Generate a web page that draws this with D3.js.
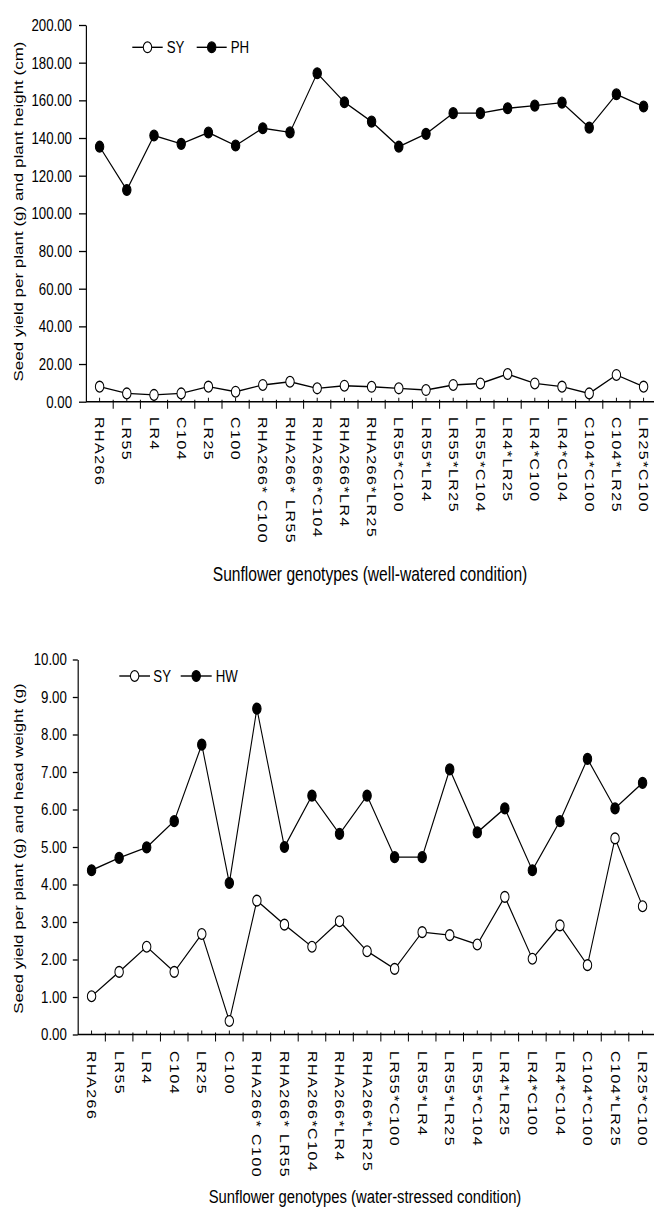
<!DOCTYPE html>
<html>
<head>
<meta charset="utf-8">
<script src="https://cdn.jsdelivr.net/npm/d3@7"></script>
<style>
  body { margin: 0; background: #fff; }
  svg { display: block; font-family: "Liberation Sans", Arial, sans-serif; }
</style>
</head>
<body>
<svg id="fig" width="654" height="1221"></svg>
<script>
"use strict";

// genotypes on the x axis (both panels)
const genotypes = [
  "RHA266", "LR55", "LR4", "C104", "LR25", "C100",
  "RHA266* C100", "RHA266* LR55", "RHA266*C104", "RHA266*LR4", "RHA266*LR25",
  "LR55*C100", "LR55*LR4", "LR55*LR25", "LR55*C104",
  "LR4*LR25", "LR4*C100", "LR4*C104", "C104*C100", "C104*LR25", "LR25*C100",
];

// well-watered: seed yield (g) and plant height (cm)
const syWell = [8.0, 4.4, 3.6, 4.4, 8.0, 5.3, 8.9, 10.6, 7.1, 8.5, 7.9, 7.1, 6.2, 8.9, 9.7, 14.7, 9.7, 8.0, 4.4, 14.2, 8.0];
const phWell = [135.4, 112.4, 141.3, 136.9, 142.9, 136.0, 145.2, 143.0, 174.4, 159.0, 148.7, 135.4, 142.2, 153.2, 153.2, 155.8, 157.2, 158.8, 145.5, 163.2, 156.7];

// water-stressed: seed yield (g) and head weight (g)
const syStress = [1.02, 1.67, 2.34, 1.67, 2.68, 0.36, 3.57, 2.93, 2.34, 3.02, 2.22, 1.75, 2.73, 2.65, 2.40, 3.67, 2.02, 2.91, 1.85, 5.23, 3.42];
const hwStress = [4.38, 4.71, 4.99, 5.69, 7.73, 4.04, 8.69, 5.00, 6.37, 5.35, 6.37, 4.73, 4.73, 7.07, 5.39, 6.03, 4.38, 5.69, 7.35, 6.03, 6.71];

const ticksWell = [0, 20, 40, 60, 80, 100, 120, 140, 160, 180, 200];
const ticksStress = [0, 1, 2, 3, 4, 5, 6, 7, 8, 9, 10];

// the original figure is squeezed horizontally
const kx = 0.78;
const u = (px) => px / kx;

const svg = d3.select("#fig");
const root = svg.append("g").attr("transform", `scale(${kx},1)`);

function drawChart(o) {
  const g = root.append("g");
  const n = genotypes.length;

  const x = d3.scaleBand()
    .domain(genotypes)
    .range([u(o.left), u(o.left + o.band * n)]);
  const cx = (d) => x(d) + x.bandwidth() / 2;

  const y = d3.scaleLinear().domain([0, o.yMax]).range([o.bottom, o.top]);

  // y axis
  const yAxis = d3.axisLeft(y)
    .tickValues(o.ticks)
    .tickFormat(d3.format(".2f"))
    .tickSize(u(o.tickLen))
    .tickSizeOuter(0)
    .tickPadding(u(o.tickPad));
  const ya = g.append("g")
    .attr("transform", `translate(${u(o.left)},0)`)
    .call(yAxis);
  ya.select(".domain").attr("stroke", "#000").attr("stroke-width", 1.5);
  ya.selectAll(".tick line").attr("stroke", "#000").attr("stroke-width", 1.3);
  ya.selectAll(".tick text")
    .attr("fill", "#000")
    .attr("font-size", 17)
    .attr("font-family", "Liberation Sans, Arial, sans-serif");

  // x axis
  const y0 = y(0);
  g.append("line")
    .attr("x1", u(o.left)).attr("x2", u(660))
    .attr("y1", y0).attr("y2", y0)
    .attr("stroke", "#000").attr("stroke-width", 1.5);

  const edges = genotypes.map((d) => x(d) + x.bandwidth());
  g.selectAll("line.major")
    .data(edges)
    .join("line")
    .attr("class", "major")
    .attr("x1", (d) => d).attr("x2", (d) => d)
    .attr("y1", y0 - 2).attr("y2", y0 + 7)
    .attr("stroke", "#000").attr("stroke-width", 1.3);

  g.selectAll("line.minor")
    .data(genotypes)
    .join("line")
    .attr("class", "minor")
    .attr("x1", cx).attr("x2", cx)
    .attr("y1", y0 - 4).attr("y2", y0)
    .attr("stroke", "#000").attr("stroke-width", 1.2);

  g.selectAll("text.xl")
    .data(genotypes)
    .join("text")
    .attr("class", "xl")
    .attr("transform", (d) => `translate(${cx(d)},${o.labelTop}) rotate(90)`)
    .attr("dy", "0.35em")
    .attr("font-size", 16)
    .attr("letter-spacing", 1.5)
    .text((d) => d);

  // axis titles
  g.append("text")
    .attr("x", u(o.titleX)).attr("y", o.titleY)
    .attr("text-anchor", "middle")
    .attr("font-size", o.titleSize)
    .text(o.xTitle);

  g.append("text")
    .attr("transform", `translate(${u(18)},${o.yTitleY}) rotate(-90)`)
    .attr("dy", "0.35em")
    .attr("text-anchor", "middle")
    .attr("font-size", 17)
    .text(o.yTitle);

  // series
  const line = d3.line()
    .x((d, i) => cx(genotypes[i]))
    .y((d) => y(d));

  const series = [
    { vals: o.open, fill: "#fff" },
    { vals: o.filled, fill: "#000" },
  ];

  series.forEach((s) => {
    g.append("path")
      .datum(s.vals)
      .attr("d", line)
      .attr("fill", "none")
      .attr("stroke", "#000")
      .attr("stroke-width", 1.4);
  });
  series.forEach((s) => {
    g.selectAll(null)
      .data(s.vals)
      .join("circle")
      .attr("cx", (d, i) => cx(genotypes[i]))
      .attr("cy", (d) => y(d))
      .attr("r", 5.4)
      .attr("fill", s.fill)
      .attr("stroke", "#000")
      .attr("stroke-width", 1.3);
  });

  // legend
  const lg = o.legend;
  [[lg.l1, lg.t1, "#fff", o.names[0]], [lg.l2, lg.t2, "#000", o.names[1]]].forEach(([ln, tx, fill, name]) => {
    g.append("line")
      .attr("x1", u(ln[0])).attr("x2", u(ln[1]))
      .attr("y1", lg.y).attr("y2", lg.y)
      .attr("stroke", "#000").attr("stroke-width", 1.4);
    g.append("circle")
      .attr("cx", u((ln[0] + ln[1]) / 2)).attr("cy", lg.y)
      .attr("r", 5.4)
      .attr("fill", fill)
      .attr("stroke", "#000").attr("stroke-width", 1.3);
    g.append("text")
      .attr("x", u(tx)).attr("y", lg.y)
      .attr("dy", "0.35em")
      .attr("font-size", 17)
      .text(name);
  });
}

// 上圖：充分灌溉
drawChart({
  left: 86, band: 27.2, top: 25, bottom: 401.7, yMax: 200, ticks: ticksWell,
  tickLen: 7, tickPad: 7, labelTop: 417,
  titleX: 370, titleY: 581, titleSize: 20, xTitle: "Sunflower genotypes (well-watered condition)",
  yTitleY: 211.5, yTitle: "Seed yield per plant (g)  and plant height  (cm)",
  open: syWell, filled: phWell, names: ["SY", "PH"],
  legend: { y: 47.3, l1: [132.3, 162.7], t1: 166.7, l2: [196.7, 226.7], t2: 230.7 },
});

// 下圖：水分逆境
drawChart({
  left: 77.8, band: 27.55, top: 659.5, bottom: 1034.5, yMax: 10, ticks: ticksStress,
  tickLen: 5, tickPad: 6, labelTop: 1051,
  titleX: 365, titleY: 1203, titleSize: 19, xTitle: "Sunflower genotypes (water-stressed condition)",
  yTitleY: 848.5, yTitle: "Seed yield per plant  (g) and head weight (g)",
  open: syStress, filled: hwStress, names: ["SY", "HW"],
  legend: { y: 676, l1: [119.3, 150], t1: 153.3, l2: [180.7, 211.7], t2: 215.7 },
});
</script>
</body>
</html>
